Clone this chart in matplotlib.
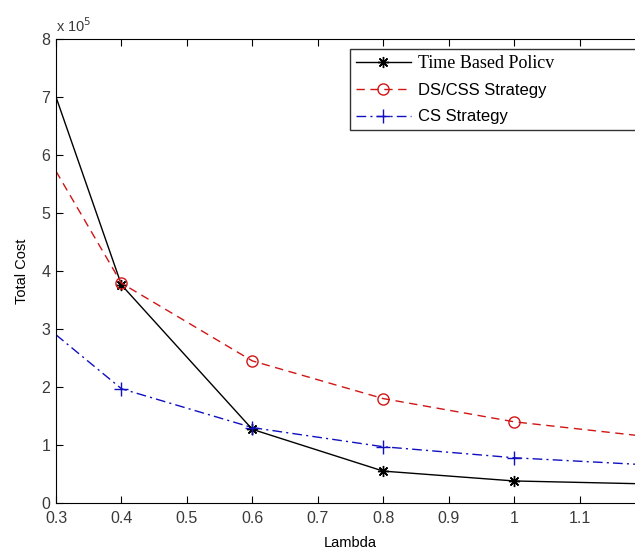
import numpy as np
import matplotlib
matplotlib.use("Agg")
import matplotlib.pyplot as plt
from matplotlib.ticker import FormatStrFormatter

plt.rcParams['font.family'] = ['Liberation Sans', 'DejaVu Sans']

# values in units of 1e5
lam = [0.3, 0.4, 0.6, 0.8, 1.0, 1.2]
time_based = [7.0, 3.76, 1.27, 0.55, 0.38, 0.33]
ds_css = [5.72, 3.79, 2.45, 1.8, 1.4, 1.15]
cs = [2.9, 1.97, 1.3, 0.97, 0.78, 0.66]

labels = ['Time Based Policv', 'DS/CSS Strategy', 'CS Strategy']

fig = plt.figure(figsize=(6.35, 5.52), dpi=100)
# axes runs past the right edge of the figure, as in the cropped original
ax = fig.add_axes([56 / 635, 1 - 503 / 552, 589 / 635, 464 / 552])

# no marker on the first point (0.3)
mk = slice(1, None)
l1, = ax.plot(lam, time_based, color='black', linestyle='-', marker=(8, 2, 0),
              markersize=8, linewidth=1, markevery=mk)
l2, = ax.plot(lam, ds_css, color='#d01515', linestyle=(0, (6, 4)), marker='o',
              markersize=8, markerfacecolor='none', linewidth=1, markevery=mk)
l3, = ax.plot(lam, cs, color='#1010c0', linestyle=(0, (7, 3, 1.5, 3)), marker='+',
              markersize=10, linewidth=1, markevery=mk)

ax.set_xlim(0.3, 1.2)
ax.set_ylim(0, 8)
ax.set_xticks(np.arange(0.3, 1.15, 0.1))
ax.set_yticks(range(0, 9))
ax.xaxis.set_major_formatter(FormatStrFormatter('%g'))
ax.tick_params(direction='in', top=True, right=True, length=5,
               labelsize=11.5, colors='black', labelcolor='#3a3a3a')
ax.tick_params(axis='x', pad=6)
ax.tick_params(axis='y', pad=4)
ax.set_xlabel('Lambda', fontsize=10.5, labelpad=7)
ax.set_ylabel('Total Cost', fontsize=10.5, labelpad=9)
ax.text(0.0, 1.008, r'x 10$^5$', transform=ax.transAxes, fontsize=10.5,
        ha='left', va='bottom', color='#3a3a3a')

leg = ax.legend([l1, l2, l3], labels, loc='upper left', mode='expand',
                bbox_to_anchor=((350 - 56) / 589, 1 - (49 - 39) / 464,
                                (660 - 350) / 589, 0.0),
                fontsize=12, frameon=True, fancybox=False, borderaxespad=0,
                handlelength=3.3, handletextpad=0.45, labelspacing=0.68,
                borderpad=0.35)
leg.get_frame().set_edgecolor('black')
leg.get_frame().set_linewidth(1)
leg.get_texts()[0].set_fontfamily('Liberation Serif')
leg.get_texts()[0].set_fontsize(13)

plt.savefig('out.png', dpi=100)
